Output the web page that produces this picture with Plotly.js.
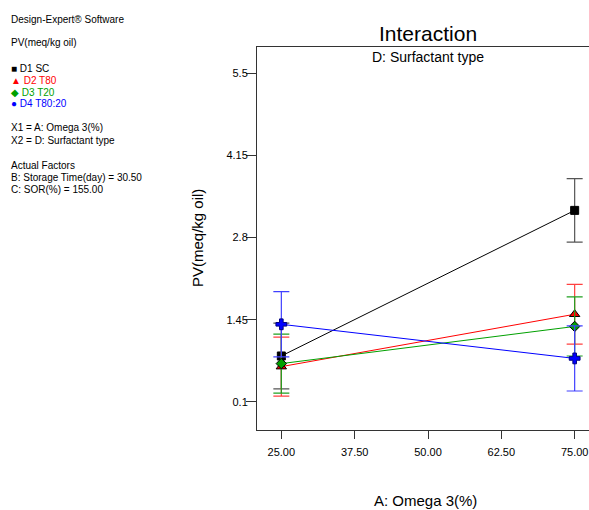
<!DOCTYPE html>
<html>
<head>
<meta charset="utf-8">
<script src="https://cdn.plot.ly/plotly-3.0.1.min.js"></script>
<style>
html,body{margin:0;padding:0;overflow:hidden;background:#fff;width:589px;height:510px;}
#chart{width:620px;height:510px;}
</style>
</head>
<body>
<div id="chart"></div>
<script>
// ---- data ----
const omega = [25, 75];
const seriesNames = ["D1 SC", "D2 T80", "D3 T20", "D4 T80:20"];
const pvD1 = [0.855, 3.245];
const pvD2 = [0.68, 1.54];
const pvD3 = [0.73, 1.34];
const pvD4 = [1.375, 0.815];
const errD1 = [0.54, 0.52];
const errD2 = [0.485, 0.49];
const errD3 = [0.485, 0.485];
const errD4 = [0.535, 0.535];
const xTickVals = [25, 37.5, 50, 62.5, 75];
const xTickText = ["25.00", "37.50", "50.00", "62.50", "75.00"];
const yTickVals = [0.1, 1.45, 2.8, 4.15, 5.5];
const yTickText = ["0.1", "1.45", "2.8", "4.15", "5.5"];

// ---- styling ----
const W = 620, H = 510;
const M = {l: 257, r: 21, t: 47, b: 80};
const PW = W - M.l - M.r, PH = H - M.t - M.b;
const FONT = "Liberation Sans, Arial, sans-serif";
function px(x){ return (x - M.l) / PW; }
function py(y){ return (H - M.b - y) / PH; }

const colors = ["#000000", "#ff0000", "#00a000", "#0000ff"];
const errColors = ["#555555", "#ff4040", "#20a020", "#4040ff"];
const symbols = ["square", "triangle-up", "diamond", "cross"];
const sizes = [8, 9, 8, 9];
const values = [pvD1, pvD2, pvD3, pvD4];
const errs = [errD1, errD2, errD3, errD4];

const traces = values.map((v, i) => ({
  type: "scatter",
  mode: "lines+markers",
  name: seriesNames[i],
  x: omega,
  y: v,
  line: {color: colors[i], width: 1},
  marker: {symbol: symbols[i], size: sizes[i], color: colors[i],
           line: {color: i === 3 ? "#000080" : "#000000", width: 1}},
  error_y: {type: "data", array: errs[i], visible: true, color: errColors[i],
            thickness: 1.2, width: 8},
  showlegend: false
}));

const panel = [
  {t: "Design-Expert® Software", y: 20, c: "#000"},
  {t: "PV(meq/kg oil)", y: 43, c: "#000"},
  {t: "■ D1 SC", y: 68, c: "#000"},
  {t: "▲ D2 T80", y: 80, c: "#ff0000"},
  {t: "◆ D3 T20", y: 92, c: "#00a000"},
  {t: "● D4 T80:20", y: 104, c: "#0000ff"},
  {t: "X1 = A: Omega 3(%)", y: 128, c: "#000"},
  {t: "X2 = D: Surfactant type", y: 140, c: "#000"},
  {t: "Actual Factors", y: 165, c: "#000"},
  {t: "B: Storage Time(day) = 30.50", y: 177, c: "#000"},
  {t: "C: SOR(%) = 155.00", y: 189, c: "#000"}
];

const annotations = panel.map(p => ({
  xref: "paper", yref: "paper", x: px(9), y: py(p.y),
  xanchor: "left", yanchor: "middle", showarrow: false,
  text: p.t, font: {family: FONT, size: 10, color: p.c}
}));
annotations.push({
  xref: "paper", yref: "paper", x: 0.5, y: py(33),
  xanchor: "center", yanchor: "middle", showarrow: false,
  text: "Interaction", font: {family: FONT, size: 21, color: "#000"}
});
annotations.push({
  xref: "paper", yref: "paper", x: 0.5, y: py(57),
  xanchor: "center", yanchor: "middle", showarrow: false,
  text: "D: Surfactant type", font: {family: FONT, size: 14, color: "#000"}
});
annotations.push({
  xref: "paper", yref: "paper", x: px(197), y: py(238),
  xanchor: "center", yanchor: "middle", showarrow: false, textangle: -90,
  text: "PV(meq/kg oil)", font: {family: FONT, size: 15, color: "#000"}
});
annotations.push({
  xref: "paper", yref: "paper", x: px(425), y: py(500),
  xanchor: "center", yanchor: "middle", showarrow: false,
  text: "A: Omega 3(%)", font: {family: FONT, size: 15, color: "#000"}
});

const layout = {
  width: W, height: H,
  margin: M,
  paper_bgcolor: "#ffffff",
  plot_bgcolor: "#ffffff",
  showlegend: false,
  xaxis: {
    range: [20.85, 79.15],
    tickmode: "array", tickvals: xTickVals, ticktext: xTickText,
    ticks: "outside", ticklen: 8, tickwidth: 1, tickcolor: "#333",
    ticklabelstandoff: 4,
    showgrid: false, zeroline: false,
    showline: true, linecolor: "#333", linewidth: 1, mirror: true,
    tickfont: {family: FONT, size: 11, color: "#000"}
  },
  yaxis: {
    range: [-0.36, 5.927],
    tickmode: "array", tickvals: yTickVals, ticktext: yTickText,
    ticks: "outside", ticklen: 10, tickwidth: 1, tickcolor: "#333",
    ticklabelstandoff: -4,
    showgrid: false, zeroline: false,
    showline: true, linecolor: "#333", linewidth: 1, mirror: true,
    tickfont: {family: FONT, size: 11, color: "#000"}
  },
  annotations: annotations
};

Plotly.newPlot("chart", traces, layout, {displayModeBar: false, staticPlot: true});
</script>
</body>
</html>
